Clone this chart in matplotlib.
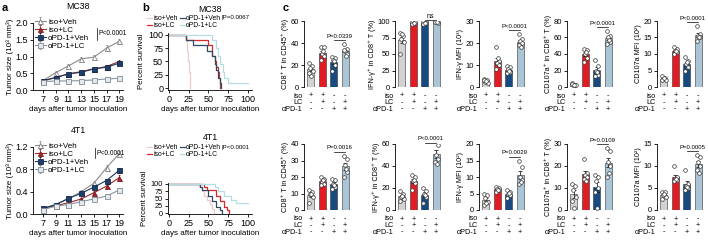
import numpy as np
import matplotlib
matplotlib.use("Agg")
import matplotlib.pyplot as plt

plt.rcParams['font.family'] = ['Liberation Sans', 'DejaVu Sans']
plt.rcParams['axes.linewidth'] = 0.6
plt.rcParams['xtick.major.width'] = 0.6
plt.rcParams['ytick.major.width'] = 0.6
plt.rcParams['xtick.major.size'] = 2
plt.rcParams['ytick.major.size'] = 2
plt.rcParams['xtick.major.pad'] = 1.5
plt.rcParams['ytick.major.pad'] = 1.5

W, H = 708, 240

# ---- panel a: tumour growth ----
days = [7, 9, 11, 13, 15, 17, 19]
groups = ['iso+Veh', 'iso+LC', 'αPD-1+Veh', 'αPD-1+LC']
mc38_size = {
    'iso+Veh': [0.28, 0.52, 0.72, 0.93, 0.98, 1.25, 1.45],
    'iso+LC': [0.27, 0.38, 0.48, 0.55, 0.63, 0.70, 0.85],
    'αPD-1+Veh': [0.28, 0.37, 0.48, 0.53, 0.63, 0.68, 0.80],
    'αPD-1+LC': [0.25, 0.27, 0.27, 0.28, 0.30, 0.33, 0.35],
}
mc38_err = {
    'iso+Veh': [0.03, 0.04, 0.05, 0.05, 0.05, 0.08, 0.08],
    'iso+LC': [0.02, 0.03, 0.03, 0.03, 0.04, 0.04, 0.05],
    'αPD-1+Veh': [0.02, 0.03, 0.03, 0.03, 0.04, 0.04, 0.05],
    'αPD-1+LC': [0.02, 0.02, 0.02, 0.02, 0.02, 0.02, 0.03],
}
t4_size = {
    'iso+Veh': [0.10, 0.17, 0.27, 0.40, 0.55, 0.83, 1.08],
    'iso+LC': [0.10, 0.15, 0.20, 0.27, 0.38, 0.50, 0.65],
    'αPD-1+Veh': [0.10, 0.17, 0.28, 0.37, 0.48, 0.60, 0.78],
    'αPD-1+LC': [0.08, 0.14, 0.17, 0.22, 0.27, 0.32, 0.43],
}
t4_err = {
    'iso+Veh': [0.01, 0.02, 0.02, 0.03, 0.03, 0.04, 0.05],
    'iso+LC': [0.01, 0.01, 0.02, 0.02, 0.03, 0.03, 0.04],
    'αPD-1+Veh': [0.01, 0.01, 0.02, 0.02, 0.03, 0.03, 0.04],
    'αPD-1+LC': [0.01, 0.01, 0.01, 0.02, 0.02, 0.02, 0.03],
}

# ---- panel b: survival (time, percent) ----
mc38_surv = {
    'iso+Veh': ([0, 22, 23, 24, 25, 27], [100, 90, 70, 50, 30, 0]),
    'iso+LC': ([0, 22, 50, 55, 58, 60, 62, 63, 65], [100, 90, 80, 60, 50, 40, 30, 20, 0]),
    'αPD-1+Veh': ([0, 22, 30, 48, 55, 58, 60, 62, 64, 66], [100, 90, 80, 70, 60, 45, 35, 20, 10, 0]),
    'αPD-1+LC': ([0, 55, 60, 62, 65, 68, 70, 75, 80, 100], [100, 90, 75, 60, 45, 30, 20, 10, 10, 10]),
}
t4_surv = {
    'iso+Veh': ([0, 38, 42, 45, 48, 52, 55, 57], [100, 90, 75, 60, 45, 30, 15, 0]),
    'iso+LC': ([0, 45, 48, 60, 65, 70, 73, 76], [100, 90, 80, 60, 40, 20, 10, 0]),
    'αPD-1+Veh': ([0, 40, 42, 50, 55, 60, 65, 67], [100, 90, 80, 60, 40, 20, 10, 0]),
    'αPD-1+LC': ([0, 58, 62, 70, 78, 85, 95, 100], [100, 90, 75, 60, 45, 35, 35, 35]),
}

# ---- panel c: flow cytometry (individual mice) ----
c_top_labels = ['CD8⁺ T in CD45⁺ (%)', 'IFN-γ⁺ in CD8⁺ T (%)', 'IFN-γ MFI (10³)',
                'CD107a⁺ in CD8⁺ T (%)', 'CD107a MFI (10²)']
c_bot_labels = ['CD8⁺ T in CD45⁺ (%)', 'IFN-γ⁺ in CD8⁺ T (%)', 'IFN-γ MFI (10²)',
                'CD107a⁺ in CD8⁺ T (%)', 'CD107a MFI (10²)']
c_top_ticks = [[0, 20, 40, 60], [0, 25, 50, 75, 100], [0, 10, 20, 30],
               [0, 20, 40, 60, 80], [0, 5, 10, 15, 20]]
c_bot_ticks = [[0, 10, 20, 30, 40], [0, 20, 40, 60], [0, 5, 10, 15, 20],
               [0, 10, 20, 30], [0, 5, 10, 15]]
c_top_p = ['P=0.0339', 'ns', 'P<0.0001', 'P<0.0001', 'P<0.0001']
c_bot_p = ['P=0.0016', 'P<0.0001', 'P=0.0029', 'P=0.0109', 'P=0.0005']
c_top_pts = [
    [[22, 19, 17, 15, 13, 10], [36, 36, 30, 28, 25, 33], [27, 26, 25, 20, 15, 24], [39, 35, 33, 30, 34, 28]],
    [[82, 78, 72, 68, 50, 80], [99, 97, 96, 98, 95, 97], [99, 98, 96, 97, 95, 97], [100, 99, 98, 97, 99, 98]],
    [[3.5, 3, 2.5, 2, 3, 2.8], [18, 12, 11, 10, 8, 13], [9.5, 9, 8, 7, 6.5, 7.5], [24, 22, 21, 20, 19, 18]],
    [[5, 3, 2, 2, 4, 3], [46, 45, 40, 35, 30, 42], [33, 25, 20, 15, 13, 18], [68, 62, 60, 55, 52, 57]],
    [[3.2, 2.8, 2.5, 2.2, 2, 2.7], [12, 11.5, 11, 10.5, 10, 11], [9, 8, 7, 6, 5, 7.5], [18.5, 16, 15.5, 15, 14, 15]],
]
c_bot_pts = [
    [[12, 11, 10, 8, 4, 10], [20, 19, 17, 16, 15, 18], [19, 18, 16, 14, 13, 15], [33, 31, 27, 23, 20, 25]],
    [[17, 15, 12, 10, 8, 13], [32, 30, 26, 25, 18, 27], [20, 17, 15, 12, 6, 14], [63, 59, 50, 46, 44, 42]],
    [[5, 4.5, 3.5, 2.5, 1.5, 2], [7, 6.8, 6.5, 6, 5.5, 6.2], [6, 5.5, 5, 4.5, 3.5, 5.2], [15, 13, 10, 9, 8, 8.5]],
    [[12, 11, 9, 6, 4, 1], [23, 17, 16, 15, 14, 13], [16, 15, 13, 10, 8, 1], [28, 27, 22, 20, 15, 17]],
    [[4.2, 4, 3.5, 3, 2.5, 3.7], [10, 7.5, 7, 6.8, 6.5, 7], [9, 6, 5.5, 5, 4.5, 5.2], [12.5, 12, 11, 10, 9, 8.5]],
]
table_rows = ['iso', 'LC', 'αPD-1']
table_signs = [['+', '+', '-', '-'], ['-', '+', '-', '+'], ['-', '-', '+', '+']]

line_style = {
    'iso+Veh': dict(marker='^', color='#8c8c8c', mfc='white', mec='#7a7a7a'),
    'iso+LC': dict(marker='^', color='#9a2a2e', mfc='#a3242a', mec='#7d1a1e'),
    'αPD-1+Veh': dict(marker='s', color='#1d3557', mfc='#1c3f6e', mec='#14284a'),
    'αPD-1+LC': dict(marker='s', color='#8a949c', mfc='#e4e9ed', mec='#7f8a93'),
}
surv_color = {'iso+Veh': '#f1c9c9', 'iso+LC': '#d8282e',
              'αPD-1+Veh': '#2f4863', 'αPD-1+LC': '#b5dce2'}
bar_colors = ['#d2d2d2', '#e31b23', '#164a80', '#a9c5d6']

fig = plt.figure(figsize=(W / 100, H / 100), dpi=100)


def fx(x):
    return x / W


def fy(y):
    return 1 - y / H


def px_axes(l, t, r, b):
    return fig.add_axes([fx(l), fy(b), (r - l) / W, (b - t) / H])


def clean(ax):
    ax.spines['top'].set_visible(False)
    ax.spines['right'].set_visible(False)


def growth_panel(ax, sizes, errs, title, yticks, ptxt_xy):
    for g in groups:
        st = line_style[g]
        ax.errorbar(days, sizes[g], yerr=errs[g], color=st['color'], lw=0.8,
                    marker=st['marker'], ms=3.6, mfc=st['mfc'], mec=st['mec'],
                    mew=0.6, elinewidth=0.5, capsize=1, label=g)
    ax.set_xlim(5.4, 19.6)
    ax.set_ylim(0, yticks[-1])
    ax.set_xticks(days)
    ax.set_yticks(yticks)
    ax.set_yticklabels([f'{t:.1f}' for t in yticks])
    ax.tick_params(labelsize=6.5)
    ax.set_xlabel('days after tumor inoculation', fontsize=5.8, labelpad=1.5)
    ax.set_ylabel('Tumor size (10³ mm³)', fontsize=5.8, labelpad=1.5)
    ax.set_title(title, fontsize=6.3, pad=10)
    ax.legend(loc='upper left', bbox_to_anchor=(-0.02, 1.13), fontsize=5.8,
              frameon=False, handlelength=1.3, handletextpad=0.3,
              labelspacing=0.05, borderpad=0)
    x, y0, y1 = ptxt_xy
    ax.plot([x, x], [y0, y1], color='black', lw=0.5)
    ax.text(x + 0.2, (y0 + y1) / 2, 'P<0.0001', fontsize=4.8, va='center')
    clean(ax)


def survival_panel(ax, surv, title, ptext, top_px, ytick_size):
    lines = []
    for g in groups:
        t, s = surv[g]
        ln, = ax.step(t, s, where='post', color=surv_color[g], lw=0.9, label=g)
        lines.append(ln)
    ax.set_xlim(-1, 105)
    ax.set_ylim(-3, 103)
    ax.set_xticks([0, 25, 50, 75, 100])
    ax.set_yticks([0, 25, 50, 75, 100])
    ax.tick_params(axis='x', labelsize=6.5)
    ax.tick_params(axis='y', labelsize=ytick_size)
    ax.set_xlabel('days after tumor inoculation', fontsize=5.8, labelpad=1.5)
    ax.set_ylabel('Percent survival', fontsize=5.6, labelpad=2.0)
    # title, legend and P value sit in figure pixels above the axes
    fig.text(fx(210), fy(top_px), title, fontsize=6.3, ha='center', va='center')
    fig.legend(lines, groups, loc='upper left',
               bbox_to_anchor=(fx(144), fy(top_px + 3)), ncol=2,
               fontsize=4.9, frameon=False, handlelength=0.7,
               handletextpad=0.2, labelspacing=0.0, columnspacing=0.3,
               borderpad=0)
    fig.text(fx(222), fy(top_px + 9), '|' + ptext, fontsize=4.4,
             va='center', ha='left')
    clean(ax)


def bar_panel(ax, pts, ticks, ylabel, ptext):
    x = np.arange(4)
    means = [np.mean(p) for p in pts]
    sems = [np.std(p, ddof=1) / np.sqrt(len(p)) for p in pts]
    ax.bar(x, means, width=0.62, color=bar_colors, edgecolor='#333333', lw=0.4,
           zorder=1)
    ax.errorbar(x, means, yerr=sems, fmt='none', ecolor='black', elinewidth=0.5,
                capsize=1.2, capthick=0.5, zorder=2)
    for i, p in enumerate(pts):
        offs = np.array([-0.14, 0.12, -0.05, 0.15, -0.12, 0.04])[:len(p)]
        ax.scatter(x[i] + offs, p, s=7, facecolor='white', edgecolor='#333333',
                   linewidths=0.5, zorder=3)
    ax.set_xlim(-0.6, 3.6)
    ax.set_ylim(0, ticks[-1])
    ax.set_yticks(ticks)
    ax.set_xticks([])
    ax.tick_params(labelsize=5.5)
    ax.set_ylabel(ylabel, fontsize=5.2, labelpad=1.5)
    clean(ax)
    ax.spines['bottom'].set_visible(False)
    ax.axhline(0, color='black', lw=0.6, xmin=0.02, xmax=0.98)
    top = max(max(pts[2]), max(pts[3]))
    yb = min(top + ticks[-1] * 0.06, ticks[-1] * 1.02)
    ax.plot([2, 3], [yb, yb], color='black', lw=0.5, clip_on=False)
    if ptext == 'ns':
        ax.text(2.5, yb, 'ns', fontsize=5, ha='center', va='bottom')
    else:
        ax.text(2.5, yb + ticks[-1] * 0.02, ptext, fontsize=4.3, ha='center',
                va='bottom')
    for r, (row, signs) in enumerate(zip(table_rows, table_signs)):
        dy = -(9 + 6.6 * r) * 0.72
        ax.annotate(row, (0, 0), xycoords='axes fraction', xytext=(-1, dy),
                    textcoords='offset points', fontsize=5.2, ha='right',
                    va='center')
        for i, s in enumerate(signs):
            ax.annotate(s, (x[i], 0), xycoords=('data', 'axes fraction'),
                        xytext=(0, dy), textcoords='offset points',
                        fontsize=5.2, ha='center', va='center')


# panel a
ax = px_axes(33, 23, 123, 90)
growth_panel(ax, mc38_size, mc38_err, 'MC38', [0, 0.5, 1.0, 1.5, 2.0], (15.5, 1.5, 1.85))
ax = px_axes(33, 147, 123, 214)
growth_panel(ax, t4_size, t4_err, '4T1', [0, 0.4, 0.8, 1.2], (15.2, 1.0, 1.18))

# panel b
ax = px_axes(168, 33, 252, 90)
survival_panel(ax, mc38_surv, 'MC38', 'P=0.0067', 9, 6.5)
ax = px_axes(168, 183, 252, 214)
survival_panel(ax, t4_surv, '4T1', 'P<0.0001', 138, 5.3)

# panel c
c_lefts = [304, 395, 479, 567, 657]
for k, l in enumerate(c_lefts):
    ax = px_axes(l, 21, l + 48, 87)
    bar_panel(ax, c_top_pts[k], c_top_ticks[k], c_top_labels[k], c_top_p[k])
    ax = px_axes(l, 144, l + 48, 210)
    bar_panel(ax, c_bot_pts[k], c_bot_ticks[k], c_bot_labels[k], c_bot_p[k])

for letter, xp in [('a', 2), ('b', 142), ('c', 283)]:
    fig.text(xp / W, 1 - 8 / H, letter, fontsize=8, fontweight='bold', va='center')

fig.savefig('out.png', dpi=100)
